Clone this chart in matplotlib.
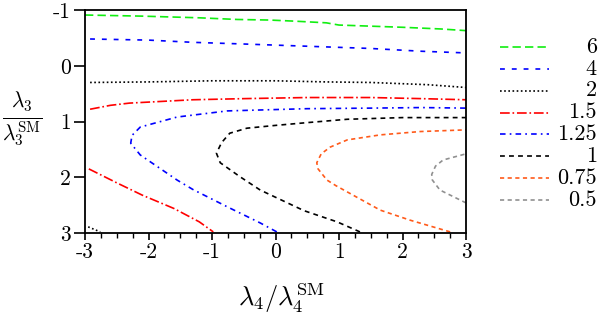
import matplotlib
matplotlib.use("Agg")
import matplotlib.pyplot as plt

plt.rcParams['mathtext.fontset'] = 'cm'
plt.rcParams['font.family'] = ['cmr10', 'DejaVu Serif']
plt.rcParams['lines.scale_dashes'] = False

# contour levels (legend order)
levels = ['6', '4', '2', '1.5', '1.25', '1', '0.75', '0.5']

# contour lines: (x = lambda4 ratio, y = lambda3 ratio)
x6 = [-3.0, -2.1, -1.2, -0.6, -0.1, 0.3, 0.8, 1.0, 2.0, 2.6, 3.0]
y6 = [-0.91, -0.89, -0.86, -0.83, -0.82, -0.80, -0.77, -0.73, -0.69, -0.66, -0.63]

x4 = [-2.92, -2.0, -1.3, -0.5, 0.5, 1.5, 2.3, 3.0]
y4 = [-0.48, -0.46, -0.42, -0.39, -0.35, -0.31, -0.26, -0.23]

x2 = [-2.92, -2.0, -1.0, 0.0, 0.8, 1.5, 2.4, 3.0]
y2 = [0.30, 0.29, 0.27, 0.27, 0.29, 0.30, 0.34, 0.39]
x2b = [-2.95, -2.76]
y2b = [2.89, 2.98]

x15 = [-2.92, -2.6, -2.3, -1.8, -1.3, -0.5, 0.5, 1.5, 2.3, 3.0]
y15 = [0.78, 0.71, 0.67, 0.64, 0.61, 0.59, 0.57, 0.57, 0.59, 0.61]
x15b = [-2.94, -2.5, -2.1, -1.6, -1.2, -0.98]
y15b = [1.85, 2.10, 2.32, 2.56, 2.80, 2.98]

x125 = [0.02, -0.24, -0.76, -1.3, -1.55, -2.13, -2.28, -2.26, -2.13, -1.55, -0.76, 0.5, 1.5, 2.3, 3.0]
y125 = [2.98, 2.82, 2.53, 2.22, 2.05, 1.60, 1.39, 1.25, 1.10, 0.92, 0.81, 0.77, 0.76, 0.75, 0.76]

x1 = [1.33, 0.97, 0.45, -0.24, -0.56, -0.87, -0.93, -0.85, -0.72, -0.45, 0.0, 0.5, 1.13, 2.0, 3.0]
y1 = [2.98, 2.80, 2.60, 2.23, 1.99, 1.74, 1.57, 1.38, 1.21, 1.12, 1.07, 1.02, 0.96, 0.93, 0.93]

x075 = [2.75, 2.12, 1.65, 1.22, 0.95, 0.81, 0.67, 0.65, 0.72, 0.86, 1.13, 1.65, 2.28, 3.0]
y075 = [2.98, 2.77, 2.59, 2.32, 2.15, 2.05, 1.85, 1.74, 1.58, 1.46, 1.33, 1.24, 1.18, 1.15]

x05 = [3.0, 2.59, 2.47, 2.46, 2.52, 2.64, 3.0]
y05 = [2.46, 2.23, 2.05, 1.95, 1.80, 1.69, 1.58]

xticks = [-3, -2, -1, 0, 1, 2, 3]
xtick_labels = ['-3', '-2', '-1', '0', '1', '2', '3']
yticks = [-1, 0, 1, 2, 3]
ytick_labels = ['-1', '0', '1', '2', '3']

colors = ['#11ee11', '#0000ff', '#000000', '#ff0000', '#0000ff', '#000000', '#ff5a1a', '#909090']
dashes = [(6, 3), (3.5, 5), (1.2, 1.8), (7, 2, 1.2, 2), (4, 3, 1.2, 3), (3.5, 3), (3, 2.5), (3, 2.5)]
curves = [[(x6, y6)], [(x4, y4)], [(x2, y2), (x2b, y2b)], [(x15, y15), (x15b, y15b)],
          [(x125, y125)], [(x1, y1)], [(x075, y075)], [(x05, y05)]]

fig = plt.figure(figsize=(5.99, 3.15), dpi=100)
ax = fig.add_axes([85 / 599, 1 - 233 / 315, 381 / 599, 223 / 315])

for segs, c, d in zip(curves, colors, dashes):
    for xs, ys in segs:
        ax.plot(xs, ys, color=c, lw=1.2, dashes=d)

ax.set_xlim(-3, 3)
ax.set_ylim(3, -1)
ax.set_xticks(xticks)
ax.set_xticklabels(xtick_labels, fontsize=15.5)
ax.set_xticks([v / 4 for v in range(-12, 13)], minor=True)
ax.set_yticks(yticks)
ax.set_yticklabels(ytick_labels, fontsize=15.5)
ax.tick_params(axis='x', which='major', direction='out', length=5, width=1.2, pad=2)
ax.tick_params(axis='x', which='minor', direction='out', length=3.5, width=1.0)
ax.tick_params(axis='y', which='major', direction='out', length=8, width=1.2, pad=2)
for s in ax.spines.values():
    s.set_linewidth(1.3)

fig.text(281 / 599, 1 - 298 / 315, r'$\lambda_4/\lambda_4^{\rm SM}$', fontsize=19,
         ha='center', va='center')
fig.text(22 / 599, 1 - 119 / 315, r'$\frac{\lambda_3}{\lambda_3^{\rm SM}}$', fontsize=22,
         ha='center', va='center')

# legend drawn in its own axes
lax = fig.add_axes([500 / 599, 1 - 211 / 315, 97 / 599, 175 / 315])
lax.set_xlim(0, 1)
lax.set_ylim(len(levels) - 0.5, -0.5)
lax.axis('off')
for i, (lab, c, d) in enumerate(zip(levels, colors, dashes)):
    lax.plot([0, 0.5], [i, i], color=c, lw=1.2, dashes=d)
    lax.text(1.0, i, lab, ha='right', va='center', fontsize=16)

fig.savefig('out.png', dpi=100)
